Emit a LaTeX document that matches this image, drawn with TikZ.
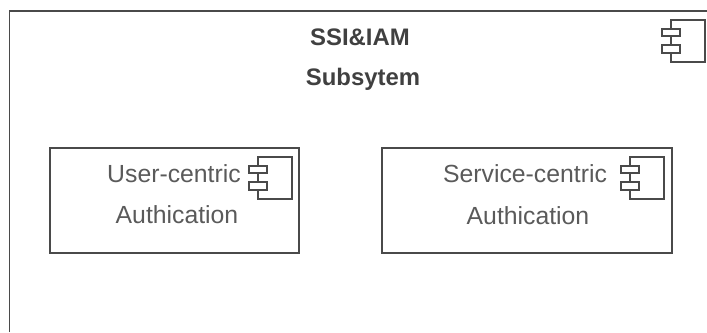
\documentclass[tikz,border=0pt]{standalone}
\usepackage{fontspec}
\setmainfont{Liberation Sans}
\usetikzlibrary{positioning}
\definecolor{linegray}{HTML}{4A4A4A}
\definecolor{textgray}{HTML}{5A5A5A}

\tikzset{
  compicon/.pic={
    \draw[icon] (0,0) rectangle (34,42);
    \draw[icon,fill=white] (-9,9) rectangle (9,16);
    \draw[icon,fill=white] (-9,25) rectangle (9,33);
  }
}

\begin{document}
\begin{tikzpicture}[x=0.02cm,y=-0.02cm,
  cell/.style={rectangle,draw=linegray,line width=0.9pt,minimum width=4.98cm,minimum height=2.1cm,inner sep=0pt},
  wideCell/.style={cell,minimum width=5.8cm},
  label/.style={text=textgray,font=\fontsize{14.1}{16}\selectfont,inner sep=0pt},
  title/.style={label,text=black!75,font=\fontsize{13.6}{16}\selectfont\bfseries},
  icon/.style={draw=linegray,line width=0.8pt}]

\useasboundingbox (0,0) rectangle (707,332);

% outer frame runs off the picture
\coordinate (frameBottom) at (9.5,332);
\coordinate (frameCorner) at (9.5,11);
\coordinate (frameRight) at (707,11);
\draw[linegray,line width=0.9pt] (frameBottom) -- (frameCorner) -- (frameRight);

\node[title] at (360,37) (ssi) {SSI\&IAM};
\node[title] at (363,79) (subsystem) {Subsytem};

\node[cell] at (174.5,200.5) (user) {};
\node[wideCell] at (527,200.5) (service) {};

\node[label] at (174,174) (userA) {User-centric};
\node[label] at (177,215) (userB) {Authication};
\node[label] at (525,174) (serviceA) {Service-centric};
\node[label] at (528,216) (serviceB) {Authication};

\pic at (671,20) {compicon};
\pic at (258,157) {compicon};
\pic at (630,157) {compicon};
\end{tikzpicture}
\end{document}
